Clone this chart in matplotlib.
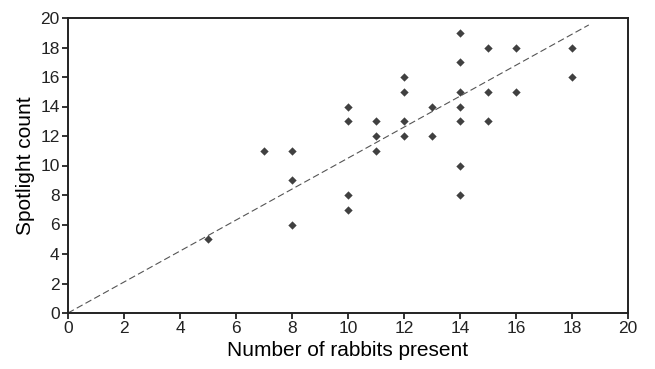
import matplotlib
matplotlib.use("Agg")
import matplotlib.pyplot as plt
import numpy as np

plt.rcParams['font.family'] = ['Liberation Sans', 'DejaVu Sans']

rabbits = [5, 7, 8, 8, 8, 10, 10, 10, 10, 11, 11, 11, 12, 12, 12, 12, 13, 13,
           14, 14, 14, 14, 14, 14, 14, 15, 15, 15, 16, 16, 18, 18]
spotlight = [5, 11, 11, 9, 6, 14, 13, 8, 7, 13, 12, 11, 16, 15, 13, 12, 14, 12,
             19, 17, 15, 14, 13, 10, 8, 18, 15, 13, 18, 15, 18, 16]
fit_slope = 1.05
fit_x = [0, 18.6]

x_ticks = list(range(0, 21, 2))
y_ticks = list(range(0, 21, 2))

fig = plt.figure(figsize=(6.55, 3.69), dpi=100)
ax = fig.add_axes([68/655, 1-313/369, (628-68)/655, (313-18)/369])

ax.plot(fit_x, [fit_slope*v for v in fit_x], ls=(0, (6, 3)), color='#555555', lw=0.8)
ax.scatter(rabbits, spotlight, marker='D', s=18, color='#404040', zorder=3, linewidths=0)

ax.set_xlim(0, 20)
ax.set_ylim(0, 20)
ax.set_xticks(x_ticks)
ax.set_yticks(y_ticks)
ax.tick_params(direction='out', length=4, width=1.3, labelsize=12.5, colors='#222222', pad=2)
for s in ax.spines.values():
    s.set_linewidth(1.4)
    s.set_color('#222222')
ax.set_xlabel('Number of rabbits present', fontsize=15, labelpad=3)
ax.set_ylabel('Spotlight count', fontsize=15, labelpad=4)

fig.savefig('out.png', dpi=100)
